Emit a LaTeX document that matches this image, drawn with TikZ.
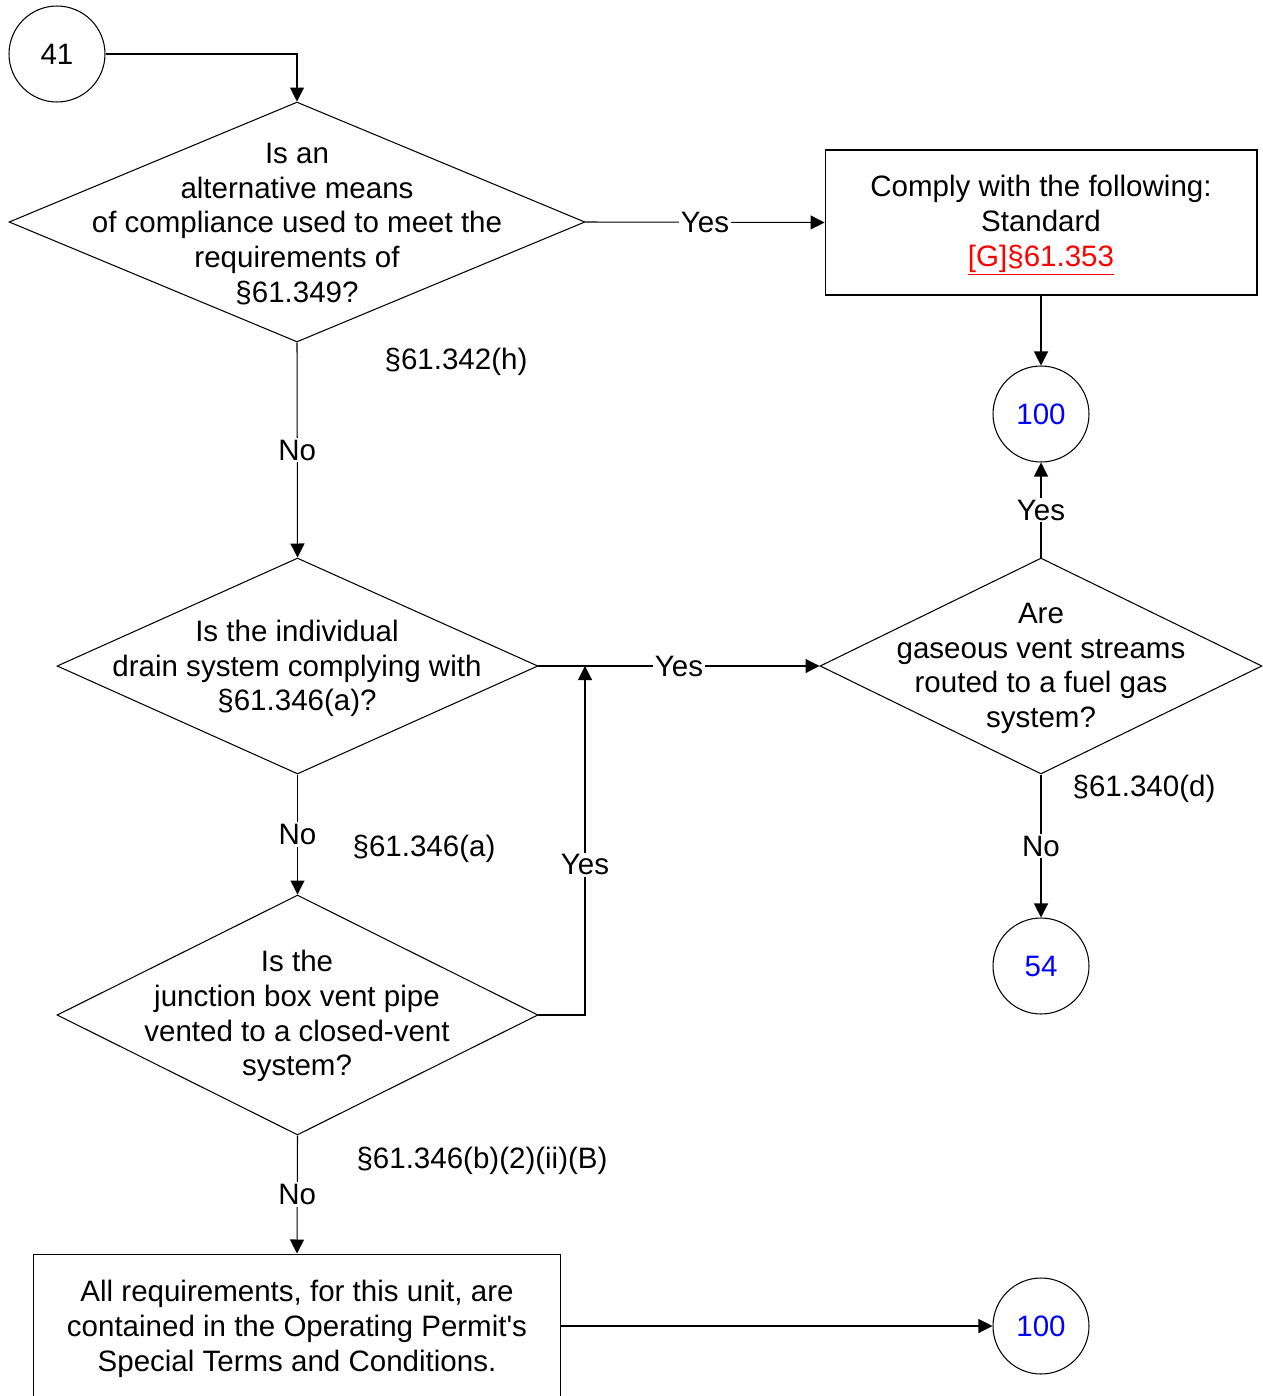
\documentclass[tikz,border=0pt]{standalone}
\usepackage{fontspec}
\setmainfont{Liberation Sans}
\usetikzlibrary{shapes.geometric,arrows.meta}
\definecolor{linkred}{RGB}{255,0,0}
\definecolor{refblue}{RGB}{0,0,255}
\begin{document}
\begin{tikzpicture}[x=0.02cm,y=-0.02cm,line width=.6pt,
  font=\fontsize{16.8pt}{19.8pt}\selectfont,
  decision/.style={draw,diamond,inner sep=0pt},
  conn/.style={draw,circle,minimum size=1.92cm,inner sep=0pt},
  box/.style={draw,rectangle,inner sep=0pt,align=center},
  lbl/.style={fill=white,inner sep=1pt},
  arr/.style={-{Triangle[length=0.28cm,width=0.28cm]}}]
\useasboundingbox (0,0) rectangle (1262,1396);
% connectors (off-page references)
\node[conn] (c41) at (57,54) {41};
\node[conn,text=refblue] (c100a) at (1041,414) {100};
\node[conn,text=refblue] (c54) at (1041,966) {54};
\node[conn,text=refblue] (c100b) at (1041,1326) {100};
% decisions
\node[decision,minimum width=11.52cm,minimum height=4.8cm] (d1) at (297,222) {};
\node[align=center] (d1t) at (297,224) {Is an\\alternative means\\of compliance used to meet the\\requirements of\\§61.349?};
\node[decision,minimum width=9.62cm,minimum height=4.32cm] (d2) at (297.5,666) {};
\node[align=center] (d2t) at (297,668.5) {Is the individual\\drain system complying with\\§61.346(a)?};
\node[decision,minimum width=9.62cm,minimum height=4.8cm] (d3) at (297.5,1015) {};
\node[align=center] (d3t) at (297,1016) {Is the\\junction box vent pipe\\vented to a closed-vent\\system?};
\node[decision,minimum width=8.84cm,minimum height=4.32cm] (d4) at (1041,666) {};
\node[align=center] (d4t) at (1041,668.5) {Are\\gaseous vent streams\\routed to a fuel gas\\system?};
% boxes
\node[box,minimum width=8.64cm,minimum height=2.9cm] (b1) at (1041,222.5) {};
\node[align=center] (b1t) at (1041,225.5) {Comply with the following:\\Standard\\\textcolor{linkred}{\underline{[G]§61.353}}};
\node[box,minimum width=10.56cm,minimum height=2.88cm] (b2) at (297,1326) {};
\node[align=center] (b2t) at (297,1329) {All requirements, for this unit, are\\contained in the Operating Permit\textquotesingle s\\Special Terms and Conditions.};
% citations
\node (r1) at (456,362) {§61.342(h)};
\node (r2) at (424,849) {§61.346(a)};
\node (r3) at (482,1161) {§61.346(b)(2)(ii)(B)};
\node (r4) at (1144,789) {§61.340(d)};
\coordinate (j) at (585,666);
% flow
\draw[arr] (c41.east) -| (d1.north);
\draw[arr] (d1.east) -- node[lbl]{Yes} (b1.west);
\draw[arr] (b1.south) -- (c100a.north);
\draw[arr] (d1.south) -- node[lbl]{No} (d2.north);
\draw[arr] (d2.east) -- node[lbl]{Yes} (d4.west);
\draw[arr] (d4.north) -- node[lbl]{Yes} (c100a.south);
\draw[arr] (d4.south) -- node[lbl]{No} (c54.north);
\draw[arr] (d2.south) -- node[lbl]{No} (d3.north);
\draw[arr] (d3.east) -| node[lbl,pos=0.715]{Yes} (j);
\draw[arr] (d3.south) -- node[lbl]{No} (b2.north);
\draw[arr] (b2.east) -- (c100b.west);
\end{tikzpicture}
\end{document}
